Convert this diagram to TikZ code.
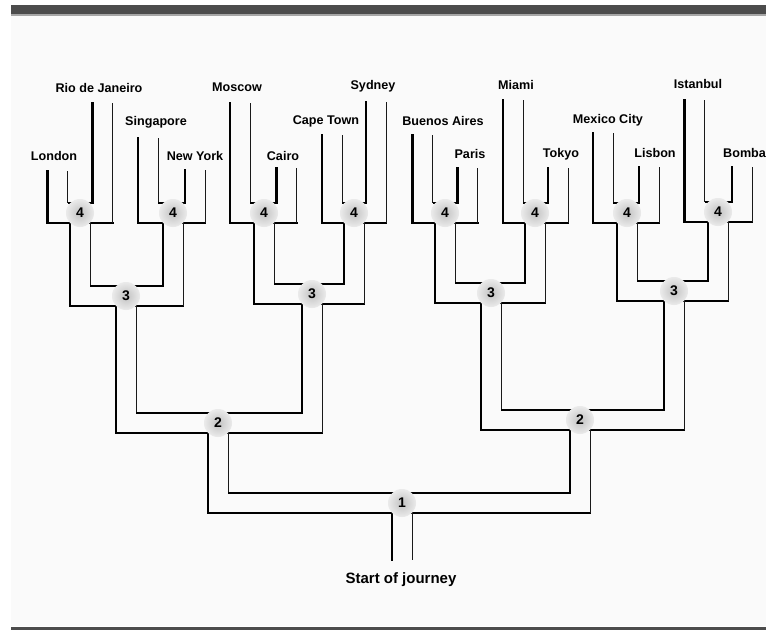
\documentclass[tikz,border=0pt]{standalone}
\usepackage{fontspec}
\usepackage{tikz}
\usetikzlibrary{calc,decorations.pathreplacing}
\newfontfamily\labelfont{Liberation Sans}
\tikzstyle{road edge}=[line width=2.8pt, black, line cap=rect]
\tikzstyle{road rim}=[line width=1.1pt, black]
\tikzstyle{road hatch}=[line width=1pt, black!90,
postaction={decorate, decoration={ticks, segment length=2.2pt, amplitude=1.7pt}, line width=0.7pt, black!75}]
\tikzstyle{junction}=[circle, inner sep=0pt, minimum size=28pt, shading=radial,
inner color=black!24, outer color=black!8, font=\labelfont\bfseries\fontsize{14}{16}\selectfont]
\tikzstyle{city}=[anchor=base, inner sep=0pt, font=\labelfont\bfseries\fontsize{12.6}{14}\selectfont]
\newcommand{\roadfork}[3]{%
  \draw[road edge] ($(#2)+(-10,10)$) |- ($(#1)+(-10,10)$);
  \draw[road edge] ($(#1)+(10,10)$) -- ($(#3|-#1)+(10,10)$);
  \draw[road hatch] ($(#3|-#1)+(10,10)$) -- ($(#3)+(10,10)$);
  \draw[road hatch] ($(#2)+(10,10)$) -- ($(#2|-#1)+(10,-10)$);
  \draw[road rim] ($(#2|-#1)+(10,-10)$) -- ($(#3|-#1)+(-10,-10)$);
  \draw[road edge] ($(#3|-#1)+(-10,-10)$) -- ($(#3)+(-10,10)$);
}

\begin{document}
\begin{tikzpicture}[x=1pt, y=-1pt]
	\useasboundingbox (0,0) rectangle (766,630);
	\fill[black!2] (11,15) rectangle (766,626);
	\fill[black!70] (11,5) rectangle (766,14);
	\fill[black!35] (11,14) rectangle (766,16);
	\fill[black!70] (11,627) rectangle (766,630);

	\foreach \name/\x/\y in {london/57.5/161, rio/102.5/93, singapore/148/128, newyork/195/160,
		moscow/240/93, cairo/286.5/158, capetown/332/125, sydney/376/92,
		buenosaires/422.5/125, paris/467.5/158, miami/513/90, tokyo/558/158,
		mexicocity/603/123, lisbon/649/157, istanbul/694.5/90, bombay/742/157}
		\coordinate (\name) at (\x,\y);

	\foreach \name/\x/\y in {j4a/80/213, j4b/173/213, j4c/264/213, j4d/354/213,
		j4e/445/213, j4f/535/213, j4g/627/213, j4h/718/212,
		j3a/126/296, j3b/312/294, j3c/491/293, j3d/674/291,
		j2a/218/423, j2b/580/420, j1/402/503, start/402/560}
		\coordinate (\name) at (\x,\y);

	\roadfork{j4a}{london}{rio}
	\roadfork{j4b}{singapore}{newyork}
	\roadfork{j4c}{moscow}{cairo}
	\roadfork{j4d}{capetown}{sydney}
	\roadfork{j4e}{buenosaires}{paris}
	\roadfork{j4f}{miami}{tokyo}
	\roadfork{j4g}{mexicocity}{lisbon}
	\roadfork{j4h}{istanbul}{bombay}
	\roadfork{j3a}{j4a}{j4b}
	\roadfork{j3b}{j4c}{j4d}
	\roadfork{j3c}{j4e}{j4f}
	\roadfork{j3d}{j4g}{j4h}
	\roadfork{j2a}{j3a}{j3b}
	\roadfork{j2b}{j3c}{j3d}
	\roadfork{j1}{j2a}{j2b}
	\draw[road edge] ($(j1)+(-10,10)$) -- ($(start)+(-10,0)$);
	\draw[road hatch] ($(j1)+(10,10)$) -- ($(start)+(10,0)$);

	\foreach \j/\n in {j4a/4, j4b/4, j4c/4, j4d/4, j4e/4, j4f/4, j4g/4, j4h/4,
		j3a/3, j3b/3, j3c/3, j3d/3, j2a/2, j2b/2, j1/1}
		\node[junction] (c-\j) at (\j) {\n};

	\foreach \name/\x/\y/\txt in {london/54/160/London, rio/99/92/Rio de Janeiro,
		singapore/156/125/Singapore, newyork/195/160/New York, moscow/237/91/Moscow,
		cairo/283/160/Cairo, capetown/326/124/Cape Town, sydney/373/89/Sydney,
		buenosaires/443/125/Buenos Aires, paris/470/158/Paris, miami/516/89/Miami,
		tokyo/561/157/Tokyo, mexicocity/608/123/Mexico City, lisbon/655/157/Lisbon,
		istanbul/698/88/Istanbul}
		\node[city] (\name-label) at (\x,\y) {\txt};
	\node[city, anchor=base west] (bombay-label) at (723,157) {Bomba};
	\node[city, font=\labelfont\bfseries\fontsize{15}{17}\selectfont] (start-label) at (401,583) {Start of journey};
\end{tikzpicture}
\end{document}
